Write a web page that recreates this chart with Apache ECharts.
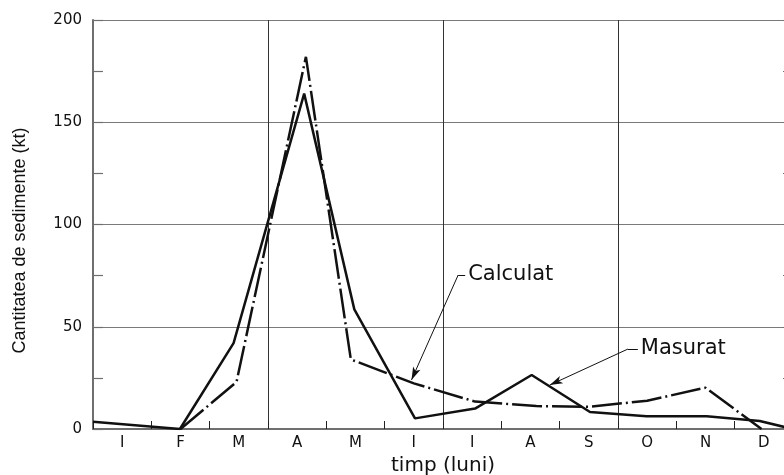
<!DOCTYPE html>
<html>
<head>
<meta charset="utf-8">
<script src="https://cdn.jsdelivr.net/npm/echarts@6/dist/echarts.min.js"></script>
<style>
  html, body { margin: 0; padding: 0; background: #fff; }
  #chart { width: 784px; height: 475px; }
</style>
</head>
<body>
<div id="chart"></div>
<script>
// luni (categorii pe axa x)
const months = ['I', 'F', 'M', 'A', 'M', 'I', 'I', 'A', 'S', 'O', 'N', 'D'];

// Masurat - linie continua (pozitie in luni, valoare kt)
const masuratX = [0, 1.49, 2.41, 3.62, 4.48, 5.52, 6.55, 7.52, 8.52, 9.49, 10.52, 11.43, 12];
const masuratY = [3.6, 0, 42, 164, 58.5, 5.2, 10, 26.4, 8.3, 6.2, 6.2, 3.9, 0];

// Calculat - linie punct-linie
const calculatX = [1.5, 2.46, 3.65, 4.42, 5.5, 6.55, 7.6, 8.5, 9.5, 10.5, 11.46];
const calculatY = [0, 23, 182, 34, 22.3, 13.4, 11.2, 10.9, 13.8, 20.2, 0];

// sageti de adnotare: [cot, varf] si capatul liniutei orizontale
const calculatArrow = [[6.26, 75.3], [5.46, 24.0]];
const calculatLabelEnd = [6.38, 75.3];
const masuratArrow = [[9.17, 39.1], [7.83, 21.5]];
const masuratLabelEnd = [9.34, 39.1];

const yMin = 0, yMax = 200, yStep = 50;

const zip = (xs, ys) => xs.map((x, i) => [x, ys[i]]);

function arrowLines(arrow, labelEnd, text) {
  return [
    [
      { coord: arrow[0], symbol: 'none' },
      { coord: labelEnd, symbol: 'none',
        label: { show: true, position: 'end', formatter: text, distance: 3,
                 fontFamily: 'DejaVu Sans', fontSize: 21, color: '#111' } }
    ],
    [
      { coord: arrow[0], symbol: 'none' },
      { coord: arrow[1], symbol: 'arrow', label: { show: false } }
    ]
  ];
}

const chart = echarts.init(document.getElementById('chart'), null, { renderer: 'canvas' });

const axisGray = '#6f6f6f';

// axa fara linie, mutata 10px spre interior, doar pentru gradatii
function tickAxis(position) {
  return {
    type: 'value', min: yMin, max: yMax, interval: yStep, position: position, offset: -10,
    axisLine: { show: false },
    axisTick: { show: true, length: 10, lineStyle: { color: axisGray, width: 1.2 } },
    minorTick: { show: true, splitNumber: 2, length: 10, lineStyle: { color: axisGray, width: 1.2 } },
    axisLabel: { show: false },
    splitLine: { show: false }
  };
}

chart.setOption({
  animation: false,
  grid: { left: 93, right: -9, top: 20, bottom: 46, outerBoundsMode: 'none', containLabel: false },
  xAxis: [
    {
      // axa de date + gradatii lunare (spre interior)
      type: 'value', min: 0, max: 12, interval: 1,
      axisLine: { show: true, lineStyle: { color: axisGray, width: 2 } },
      axisTick: { show: true, inside: false, length: -8, lineStyle: { color: '#222', width: 1 } },
      axisLabel: { show: false },
      splitLine: { show: false }
    },
    {
      // etichete luni, centrate intre gradatii
      type: 'category', data: months, boundaryGap: true, position: 'bottom',
      axisLine: { show: false }, axisTick: { show: false },
      axisLabel: { interval: 0, margin: 7, fontFamily: 'DejaVu Sans', fontSize: 15, color: '#111' },
      name: 'timp (luni)', nameLocation: 'middle', nameGap: 26,
      nameTextStyle: { fontFamily: 'DejaVu Sans', fontSize: 20, color: '#111' }
    },
    {
      // linii verticale la fiecare trimestru
      type: 'value', min: 0, max: 12, interval: 3,
      axisLine: { show: false }, axisTick: { show: false }, axisLabel: { show: false },
      splitLine: { show: true, lineStyle: { color: '#333', width: 1 } }
    }
  ],
  yAxis: [
    {
      type: 'value', min: yMin, max: yMax, interval: yStep, position: 'left',
      axisLine: { show: true, lineStyle: { color: axisGray, width: 2 } },
      axisTick: { show: false },
      axisLabel: { margin: 11, fontFamily: 'DejaVu Sans', fontSize: 15, color: '#111' },
      splitLine: { show: true, lineStyle: { color: '#7a7a7a', width: 1.2 } },
      name: 'Cantitatea de sedimente (kt)', nameLocation: 'middle', nameGap: 64,
      nameTextStyle: { fontFamily: 'Liberation Sans', fontSize: 18, color: '#111', padding: [0, 32, 0, 0] }
    },
    tickAxis('left'),
    tickAxis('right')
  ],
  series: [
    {
      name: 'Masurat',
      type: 'line',
      xAxisIndex: 0, yAxisIndex: 0,
      data: zip(masuratX, masuratY),
      symbol: 'none',
      lineStyle: { color: '#111', width: 2.5, type: 'solid' },
      markLine: {
        silent: true,
        symbolSize: [6, 13],
        lineStyle: { color: '#111', width: 1, type: 'solid' },
        label: { show: false },
        emphasis: { disabled: true },
        data: arrowLines(masuratArrow, masuratLabelEnd, 'Masurat')
      }
    },
    {
      name: 'Calculat',
      type: 'line',
      xAxisIndex: 0, yAxisIndex: 0,
      data: zip(calculatX, calculatY),
      symbol: 'none',
      lineStyle: { color: '#111', width: 2.5, type: [30, 4, 2, 4], cap: 'butt' },
      markLine: {
        silent: true,
        symbolSize: [6, 13],
        lineStyle: { color: '#111', width: 1, type: 'solid' },
        label: { show: false },
        emphasis: { disabled: true },
        data: arrowLines(calculatArrow, calculatLabelEnd, 'Calculat')
      }
    }
  ]
});

window.addEventListener('resize', () => {
  chart.resize();
});
</script>
</body>
</html>
